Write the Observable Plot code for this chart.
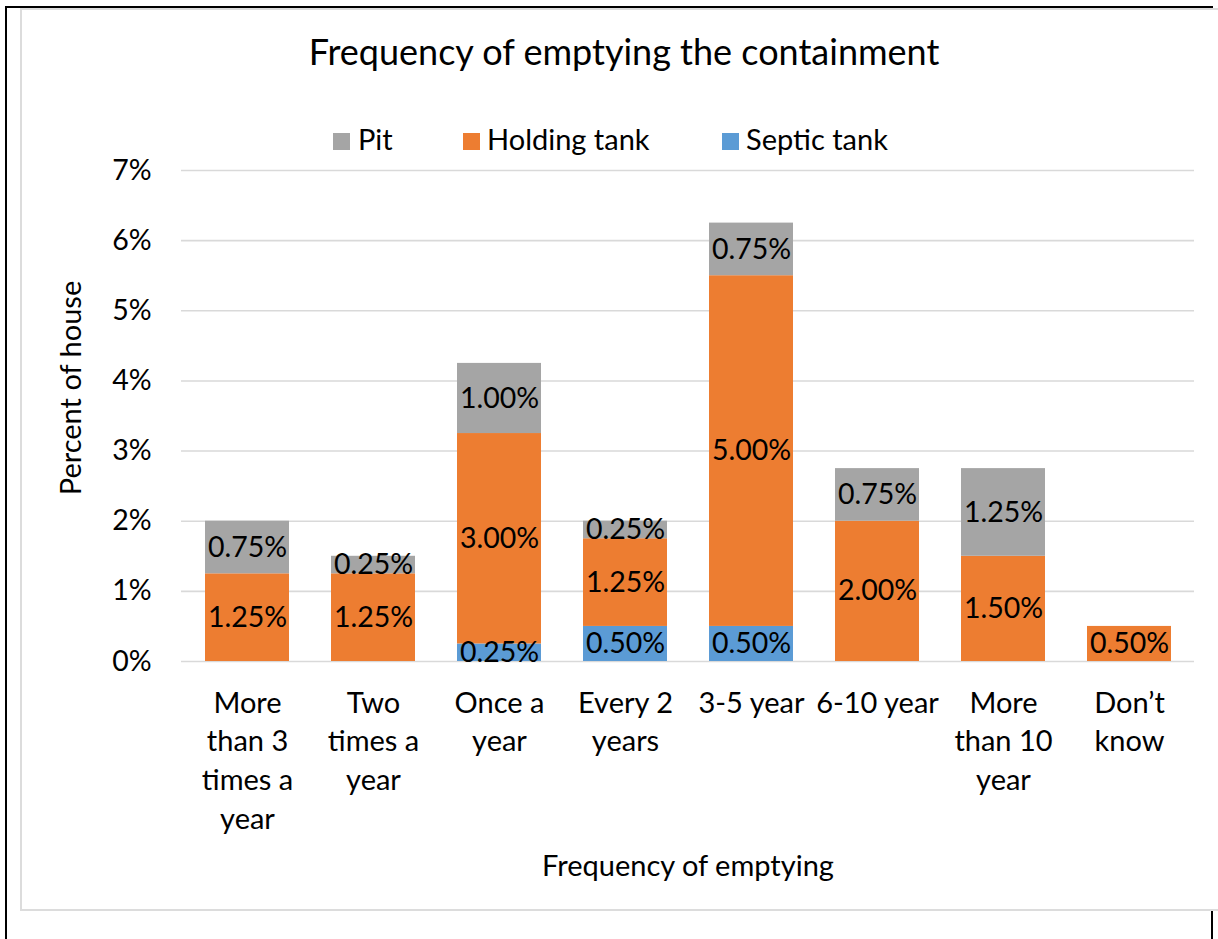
<!DOCTYPE html>
<html>
<head>
<meta charset="utf-8">
<script src="https://cdn.jsdelivr.net/npm/d3@7"></script>
<script src="https://cdn.jsdelivr.net/npm/@observablehq/plot@0.6"></script>
<style>
html, body { margin: 0; padding: 0; background: #fff; }
body { width: 1218px; height: 939px; overflow: hidden; position: relative; font-family: Lato, "Open Sans", sans-serif; color: #000; }
#cell { position: absolute; left: 5px; top: 6px; width: 1208px; height: 1000px; box-sizing: border-box; border-left: 2px solid #000; border-top: 2px solid #000; border-right: 2px solid #000; }
#chartbox { position: absolute; left: 20px; top: 8px; width: 1240px; height: 903px; box-sizing: border-box; border: 2px solid #dcdcdc; background: #fff; }
#title { position: absolute; left: 0; width: 1248px; text-align: center; font-size: 36px; line-height: 36px; top: 33px; white-space: nowrap; }
.sw { position: absolute; width: 17px; height: 17px; top: 133px; }
.lt { position: absolute; font-size: 29px; line-height: 29px; top: 124px; white-space: nowrap; }
#plot { position: absolute; left: 0; top: 0; }
</style>
</head>
<body>
<div id="cell"></div>
<div id="chartbox"></div>
<div id="title"></div>
<div id="legend"></div>
<div id="plot"></div>
<script>
// ---- data ----
const categories = ["More than 3 times a year", "Two times a year", "Once a year", "Every 2 years", "3-5 year", "6-10 year", "More than 10 year", "Don’t know"];
const tickLabels = ["More\nthan 3\ntimes a\nyear", "Two\ntimes a\nyear", "Once a\nyear", "Every 2\nyears", "3-5 year", "6-10 year", "More\nthan 10\nyear", "Don’t\nknow"];
const seriesNames = ["Pit", "Holding tank", "Septic tank"];
const seriesColors = ["#A5A5A5", "#ED7D31", "#5B9BD5"];
const pit = [0.75, 0.25, 1.00, 0.25, 0.75, 0.75, 1.25, 0];
const holding = [1.25, 1.25, 3.00, 1.25, 5.00, 2.00, 1.50, 0.50];
const septic = [0, 0, 0.25, 0.50, 0.50, 0, 0, 0];
const yTicks = [0, 1, 2, 3, 4, 5, 6, 7];
const chartTitle = "Frequency of emptying the containment";
const xTitle = "Frequency of emptying";
const yTitle = "Percent of house";

// ---- table ----
const stackOrder = ["Septic tank", "Holding tank", "Pit"];
const rows = [];
categories.forEach((c, i) => {
  const vals = {"Septic tank": septic[i], "Holding tank": holding[i], "Pit": pit[i]};
  stackOrder.forEach(s => { if (vals[s] > 0) rows.push({category: c, series: s, value: vals[s]}); });
});

// ---- title & legend (HTML) ----
document.getElementById("title").textContent = chartTitle;
const legendPos = [[333, 358], [463, 487], [722, 746]];
const legend = document.getElementById("legend");
seriesNames.forEach((s, i) => {
  const sw = document.createElement("div");
  sw.className = "sw"; sw.style.left = legendPos[i][0] + "px"; sw.style.background = seriesColors[i];
  const t = document.createElement("div");
  t.className = "lt"; t.style.left = legendPos[i][1] + "px"; t.textContent = s;
  legend.appendChild(sw); legend.appendChild(t);
});

// ---- chart ----
const chart = Plot.plot({
  width: 1218,
  height: 939,
  marginTop: 170,
  marginBottom: 278,
  marginLeft: 181,
  marginRight: 24,
  style: {background: "transparent", fontFamily: "Lato, 'Open Sans', sans-serif", color: "#000", overflow: "visible"},
  x: {domain: categories, paddingInner: 0.336, paddingOuter: 0.168, axis: null},
  y: {domain: [0, 7], axis: null},
  color: {domain: seriesNames, range: seriesColors},
  marks: [
    Plot.ruleY(yTicks, {stroke: "#d9d9d9", strokeWidth: 1.6}),
    Plot.barY(rows, Plot.stackY({x: "category", y: "value", fill: "series", z: "series", order: stackOrder})),
    Plot.text(rows, Plot.stackY({x: "category", y: "value", z: "series", order: stackOrder,
      text: d => d.value.toFixed(2) + "%", fontSize: 28.5, fill: "#000"})),
    Plot.axisY({ticks: yTicks, tickFormat: d => d + "%", tickSize: 0, tickPadding: 30, fontSize: 28.5, label: null, fill: "#000"}),
    Plot.axisX({tickFormat: d => tickLabels[categories.indexOf(d)], tickSize: 0, tickPadding: 24, fontSize: 29,
      lineHeight: 1.33, label: null, fill: "#000"}),
    Plot.text([xTitle], {frameAnchor: "bottom", dy: 214, lineAnchor: "bottom", fontSize: 29, fill: "#000"}),
    Plot.text([yTitle], {frameAnchor: "left", textAnchor: "middle", dx: -101, dy: -28, rotate: -90, lineAnchor: "bottom", fontSize: 29, fill: "#000"})
  ]
});
document.getElementById("plot").appendChild(chart);
</script>
</body>
</html>
